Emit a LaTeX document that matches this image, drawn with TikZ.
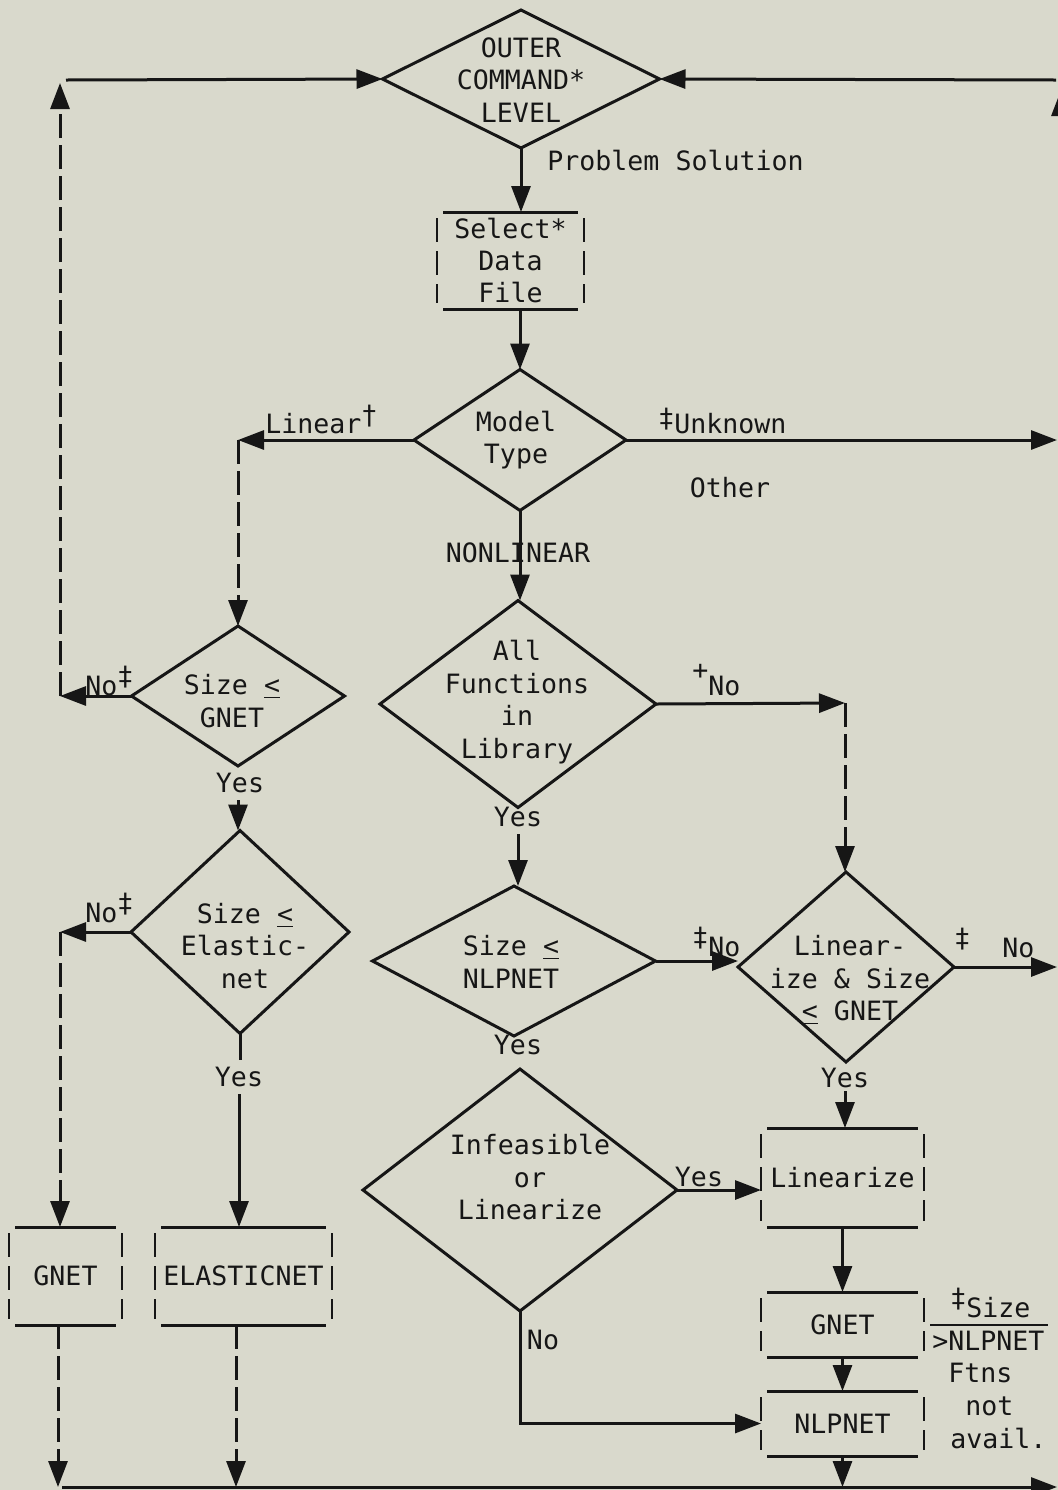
\documentclass[tikz,border=0pt]{standalone}
\usepackage{fontspec}
\setmainfont{DejaVu Sans Mono}
\usetikzlibrary{shapes.geometric,arrows.meta}
\definecolor{paper}{RGB}{217,217,204}
\definecolor{ink}{RGB}{22,22,22}
\newcommand\boxdeco[1]{%
  \draw[conn] ([xshift=3pt]#1.north west) -- ([xshift=-3pt]#1.north east);
  \draw[conn] ([xshift=3pt]#1.south west) -- ([xshift=-3pt]#1.south east);
  \draw[sidedash] ([yshift=-3pt]#1.north west) -- ([yshift=3pt]#1.south west);
  \draw[sidedash] ([yshift=-3pt]#1.north east) -- ([yshift=3pt]#1.south east);}
\newcommand\dg[2]{\raisebox{#1}{#2}}
\begin{document}
\begin{tikzpicture}[x=0.5pt,y=-0.5pt,
  dia/.style={draw=ink, diamond, line width=1.5pt, inner sep=0pt, outer sep=0pt},
  txt/.style={font=\fontsize{13.3pt}{16.2pt}\selectfont, text=ink, align=center, inner sep=0pt},
  lbl/.style={font=\fontsize{13.3pt}{16.2pt}\selectfont, text=ink, inner sep=0pt},
  bx/.style={inner sep=0pt, outer sep=0pt, font=\fontsize{13.3pt}{16.2pt}\selectfont, text=ink, align=center},
  conn/.style={draw=ink, line width=1.5pt},
  arr/.style={-{Triangle[length=13pt,width=9.5pt]}},
  dsh/.style={dash pattern=on 12pt off 3.5pt},
  sidedash/.style={draw=ink, line width=1.1pt, dash pattern=on 12pt off 4.5pt}]
\fill[paper] (0,0) rectangle (1058,1490);
\useasboundingbox (0,0) rectangle (1058,1490);

% ---------- diamonds ----------
\node[dia, minimum width=138.5pt, minimum height=69pt] (outer) at (521,79) {};
\node[txt] (outerT) at (521,80) {OUTER\\COMMAND*\\LEVEL};
\node[dia, minimum width=106pt, minimum height=70.5pt] (model) at (520,440) {};
\node[txt] (modelT) at (516,440) {Model\\Type};
\node[dia, minimum width=106.5pt, minimum height=70pt] (gnet1) at (238,696) {};
\node[txt] (gnet1T) at (232,701) {Size \underline{<}\\GNET};
\node[dia, minimum width=109pt, minimum height=101.5pt] (elas) at (240,932) {};
\node[txt] (elasT) at (245,946) {Size \underline{<}\\Elastic-\\net};
\node[dia, minimum width=138pt, minimum height=103.5pt] (funcs) at (518,704) {};
\node[txt] (funcsT) at (517,702) {All\\Functions\\in\\Library};
\node[dia, minimum width=141.5pt, minimum height=75pt] (nlp) at (514,961) {};
\node[txt] (nlpT) at (511,962) {Size \underline{<}\\NLPNET};
\node[dia, minimum width=108pt, minimum height=95pt] (lin) at (846,967) {};
\node[txt] (linT) at (850,980) {Linear-\\ize \& Size\\\underline{<} GNET};
\node[dia, minimum width=157pt, minimum height=121pt] (inf) at (520,1190) {};
\node[txt] (infT) at (530,1177) {Infeasible\\or\\Linearize};

% ---------- boxes ----------
\node[bx, minimum width=73.5pt, minimum height=48.5pt] (sel) at (510.5,260.5) {Select*\\Data\\File};
\boxdeco{sel}
\node[bx, minimum width=56.5pt, minimum height=49pt] (gnetL) at (65.5,1276) {GNET};
\boxdeco{gnetL}
\node[bx, minimum width=88.5pt, minimum height=49pt] (elasB) at (243.5,1276) {ELASTICNET};
\boxdeco{elasB}
\node[bx, minimum width=81.5pt, minimum height=49.5pt] (linz) at (842.5,1177.5) {Linearize};
\boxdeco{linz}
\node[bx, minimum width=81.5pt, minimum height=32.5pt] (gnetR) at (842.5,1324.5) {GNET};
\boxdeco{gnetR}
\node[bx, minimum width=81.5pt, minimum height=32.5pt] (nlpB) at (842.5,1423.5) {NLPNET};
\boxdeco{nlpB}

% ---------- coordinates ----------
\coordinate (cTL) at (60,80);
\coordinate (cTR) at (1061,80);
\coordinate (cR0) at (1061,1490);
\coordinate (cLin) at (238,440);
\coordinate (cU) at (1057,440);
\coordinate (cL2) at (60,696);
\coordinate (cY2) at (238,800);
\coordinate (cL1) at (60,932);
\coordinate (cY3) at (239,1094);
\coordinate (cB0) at (62,1487);
\coordinate (cBR) at (1057,1487);
\coordinate (cB1) at (58,1487);
\coordinate (cB2) at (236,1487);
\coordinate (cB3) at (842.5,1487);
\coordinate (cY1) at (518,834);
\coordinate (cF) at (845,703);
\coordinate (cN) at (1057,965);
\coordinate (cY4) at (845,1091);
\coordinate (rA) at (930,1325);
\coordinate (rB) at (1048,1325);

% ---------- connectors ----------
\draw[conn,arr] (outer.south) -- (outer.south |- sel.north);
\draw[conn,arr] (sel.south -| model.north) -- (model.north);
\draw[conn,arr] (model.west) -- (cLin);
\draw[conn,dsh,arr] (cLin) -- (gnet1.north);
\draw[conn,arr] (model.east) -- (cU);
\draw[conn,arr] (model.south) -- (model.south |- funcs.north);

\draw[conn,arr] (gnet1.west) -- (cL2);
\draw[conn,dsh,arr] (cL2) -- ([yshift=-1.5pt]cTL);
\draw[conn,arr] ([xshift=3pt]cTL) -- (outer.west);
\draw[conn,arr] (cY2) -- (cY2 |- elas.north);

\draw[conn,arr] (elas.west) -- (cL1);
\draw[conn,dsh,arr] (cL1) -- (cL1 |- gnetL.north);
\draw[conn] (elas.south) -- ++(0,26);
\draw[conn,arr] (cY3) -- (cY3 |- elasB.north);

\draw[conn,dsh,arr] (gnetL.south -| cB1) -- (cB1);
\draw[conn,dsh,arr] (elasB.south -| cB2) -- (cB2);
\draw[conn,arr] (cB0) -- (cBR);

\draw[conn,arr] (cY1) -- (cY1 |- nlp.north);
\draw[conn,arr] (funcs.east) -- (cF);
\draw[conn,dsh,arr] (cF) -- (cF |- lin.north);
\draw[conn,arr] (nlp.east) -- (nlp.east -| lin.west);
\draw[conn,arr] (lin.east) -- (lin.east -| cN);
\draw[conn,arr] (cY4) -- (cY4 |- linz.north);

\draw[conn,arr] (inf.east) -- (inf.east -| linz.west);
\draw[conn,arr] (inf.south) |- (nlpB.west);
\draw[conn,arr] (linz.south) -- (gnetR.north);
\draw[conn,arr] (gnetR.south) -- (nlpB.north);
\draw[conn,arr] (nlpB.south) -- (cB3);

\draw[conn,dsh,arr] (cR0) -- ([yshift=-5pt]cTR);
\draw[conn,arr] ([xshift=-2.5pt]cTR) -- (outer.east);

\draw[conn,line width=1.2pt] (rA) -- (rB);

% ---------- labels ----------
\node[lbl, anchor=base west] (lPS) at (547,170) {Problem Solution};
\node[lbl, anchor=base west] (lLin) at (265,433) {Linear\dg{4.5pt}{†}};
\node[lbl, anchor=base west] (lUnk) at (658,433) {\dg{3pt}{‡}Unknown};
\node[lbl] (lOth) at (730,488) {Other};
\node[lbl] (lNL) at (518,553) {NONLINEAR};
\node[lbl, anchor=base west] (lNo1) at (85,695) {No\dg{5pt}{‡}};
\node[lbl] (lYes1) at (240,783) {Yes};
\node[lbl, anchor=base west] (lNo2) at (85,922) {No\dg{5pt}{‡}};
\node[lbl] (lYes2) at (239,1077) {Yes};
\node[lbl, anchor=base west] (lNo3) at (692,695) {\dg{8pt}{+}No};
\node[lbl] (lYes3) at (518,817) {Yes};
\node[lbl, anchor=base west] (lNo4) at (692,956) {\dg{5pt}{‡}No};
\node[lbl] (lYes4) at (518,1045) {Yes};
\node[lbl, anchor=base west] (lNo5) at (954,957) {\dg{5pt}{‡}~~No};
\node[lbl] (lYes5) at (845,1078) {Yes};
\node[lbl] (lYes6) at (699,1177) {Yes};
\node[lbl] (lNo6) at (543,1340) {No};
\node[lbl, anchor=base west] (r1) at (950,1317) {\dg{5pt}{‡}Size};
\node[lbl, anchor=base west] (r2) at (932,1350) {>NLPNET};
\node[lbl, anchor=base west] (r3) at (948,1382) {Ftns};
\node[lbl, anchor=base west] (r4) at (965,1415) {not};
\node[lbl, anchor=base west] (r5) at (950,1448) {avail.};
\end{tikzpicture}
\end{document}
